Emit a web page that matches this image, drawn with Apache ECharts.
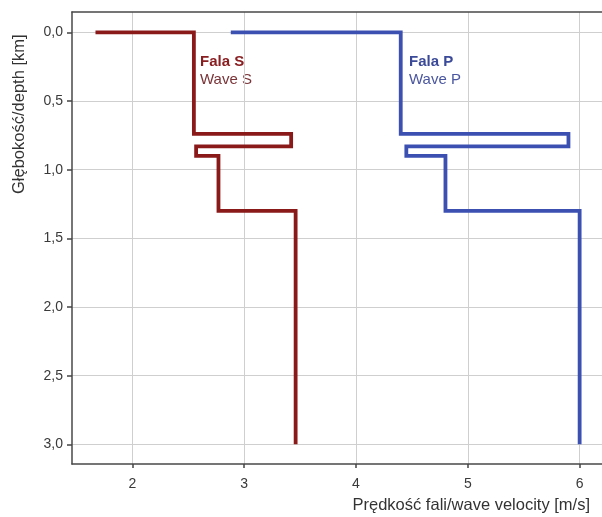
<!DOCTYPE html>
<html>
<head>
<meta charset="utf-8">
<script src="https://cdn.jsdelivr.net/npm/echarts@6/dist/echarts.min.js"></script>
<style>html,body{margin:0;padding:0;background:#fff}#c{width:602px;height:517px}</style>
</head>
<body>
<div id="c"></div>
<script>
// S-wave profile: velocity [m/s] and depth [km]
const sVelocity = [1.67, 2.55, 2.55, 3.42, 3.42, 2.57, 2.57, 2.77, 2.77, 3.46, 3.46];
const sDepth    = [0.00, 0.00, 0.74, 0.74, 0.83, 0.83, 0.90, 0.90, 1.30, 1.30, 3.00];
// P-wave profile
const pVelocity = [2.88, 4.40, 4.40, 5.90, 5.90, 4.45, 4.45, 4.80, 4.80, 6.00, 6.00];
const pDepth    = [0.00, 0.00, 0.74, 0.74, 0.83, 0.83, 0.90, 0.90, 1.30, 1.30, 3.00];
const xTicks = [2, 3, 4, 5, 6];
const yTicks = [0, 0.5, 1.0, 1.5, 2.0, 2.5, 3.0];

const toPairs = (xs, ys) => xs.map((x, i) => [x, ys[i]]);
const FONT = '"Liberation Sans", Arial, sans-serif';
const axisLineStyle = { color: '#484848', width: 1.5 };

const chart = echarts.init(document.getElementById('c'), null, { renderer: 'canvas' });
chart.setOption({
  animation: false,
  backgroundColor: '#fff',
  grid: { left: 72, top: 12, right: 0, bottom: 53, containLabel: false },
  xAxis: [{
    type: 'value', min: 1.46, max: 6.2, position: 'bottom',
    axisLine: { show: true, onZero: false, lineStyle: axisLineStyle },
    axisTick: { show: true, customValues: xTicks, length: 4, lineStyle: { color: '#444', width: 1.5 } },
    axisLabel: { customValues: xTicks, color: '#3a3a3a', fontSize: 14, fontFamily: FONT, margin: 13, formatter: v => String(v) },
    splitLine: { show: true, lineStyle: { color: '#cfcfcf', width: 1 } }
  }, {
    type: 'value', min: 1.46, max: 6.2, position: 'top',
    axisLine: { show: true, onZero: false, lineStyle: axisLineStyle },
    axisTick: { show: false }, axisLabel: { show: false }, splitLine: { show: false }
  }],
  yAxis: {
    type: 'value', inverse: true, min: -0.148, max: 3.143,
    axisLine: { show: true, onZero: false, lineStyle: axisLineStyle },
    axisTick: { show: true, customValues: yTicks, length: 5, lineStyle: { color: '#444', width: 1.5 } },
    axisLabel: { customValues: yTicks, color: '#3a3a3a', fontSize: 14, fontFamily: FONT, margin: 9,
      formatter: v => v.toFixed(1).replace('.', ',') },
    splitLine: { show: true, lineStyle: { color: '#cfcfcf', width: 1 } }
  },
  series: [{
    type: 'line', name: 'Fala S', data: toPairs(sVelocity, sDepth), showSymbol: false, symbol: 'none',
    lineStyle: { color: '#8a1a1a', width: 3.8, join: 'miter' }, clip: false
  }, {
    type: 'line', name: 'Fala P', data: toPairs(pVelocity, pDepth), showSymbol: false, symbol: 'none',
    lineStyle: { color: '#3c50b2', width: 3.8, join: 'miter' }, clip: false
  }],
  graphic: [
    { type: 'text', left: 200, top: 54, style: { text: 'Fala S', fill: '#8a1f22', font: 'bold 15px ' + FONT } },
    { type: 'text', left: 200, top: 72, style: { text: 'Wave S', fill: '#7a3438', font: '15px ' + FONT } },
    { type: 'text', left: 409, top: 54, style: { text: 'Fala P', fill: '#3b4a98', font: 'bold 15px ' + FONT } },
    { type: 'text', left: 409, top: 72, style: { text: 'Wave P', fill: '#4a56a0', font: '15px ' + FONT } },
    { type: 'text', x: 11, y: 194, rotation: Math.PI / 2, style: { text: 'Głębokość/depth [km]', fill: '#333', font: '16.5px ' + FONT, align: 'left', verticalAlign: 'top' } },
    { type: 'text', right: 12, top: 497, style: { text: 'Prędkość fali/wave velocity [m/s]', fill: '#333', font: '16.5px ' + FONT } }
  ]
});
</script>
</body>
</html>
